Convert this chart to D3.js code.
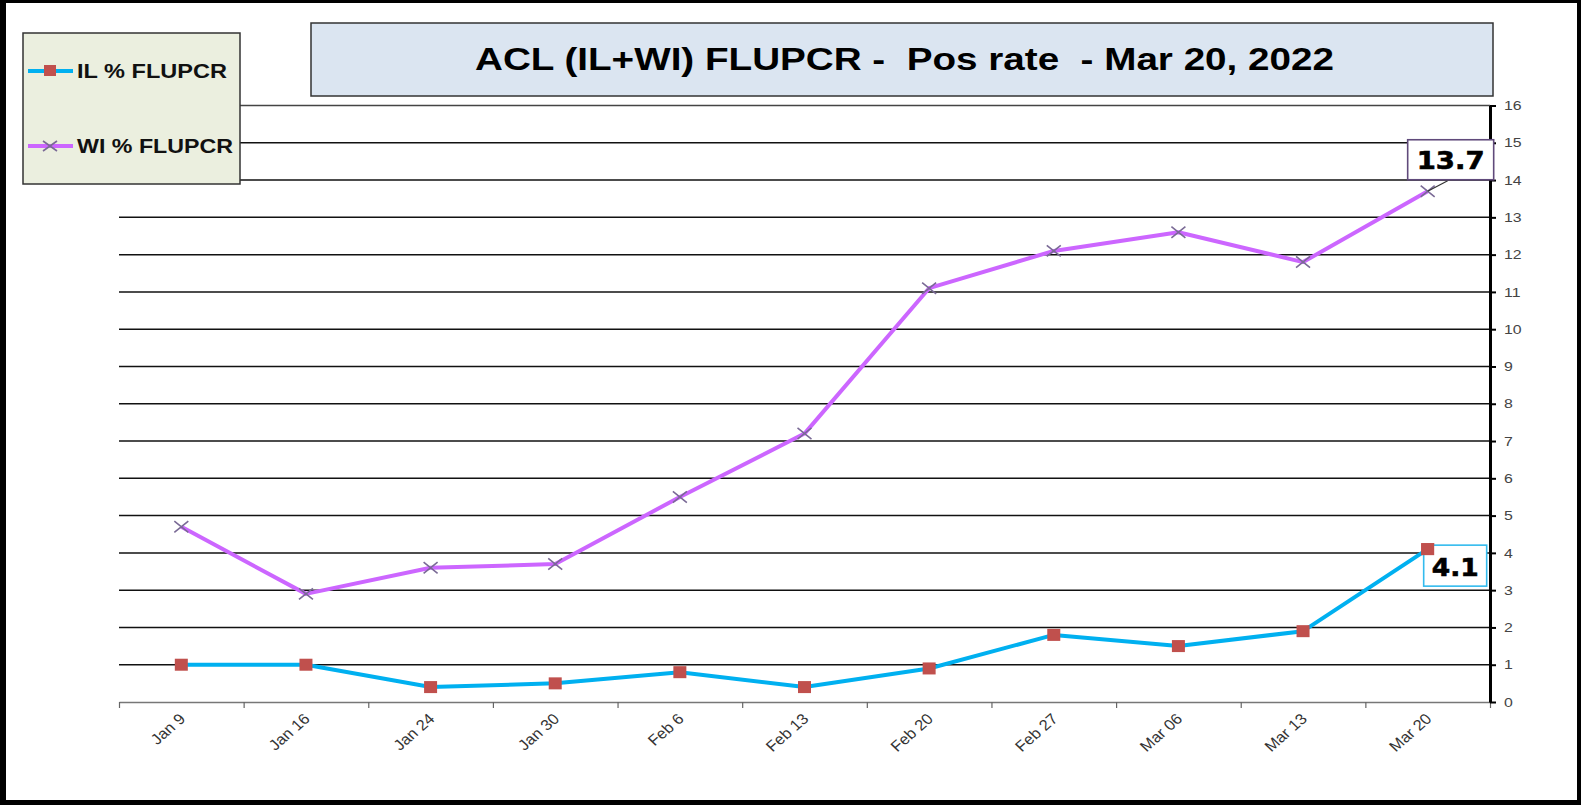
<!DOCTYPE html>
<html>
<head>
<meta charset="utf-8">
<script src="https://cdn.jsdelivr.net/npm/d3@7"></script>
<style>
  html, body { margin: 0; padding: 0; background: #fff; }
  svg { display: block; }
  text { white-space: pre; }
</style>
</head>
<body>
<svg id="chart" width="1581" height="805"></svg>
<script>
// ---- data ----
const categories = ["Jan 9", "Jan 16", "Jan 24", "Jan 30", "Feb 6", "Feb 13", "Feb 20", "Feb 27", "Mar 06", "Mar 13", "Mar 20"];
const ilValues = [1.0, 1.0, 0.4, 0.5, 0.8, 0.4, 0.9, 1.8, 1.5, 1.9, 4.1];
const wiValues = [4.7, 2.9, 3.6, 3.7, 5.5, 7.2, 11.1, 12.1, 12.6, 11.8, 13.7];
const yTicks = [0, 1, 2, 3, 4, 5, 6, 7, 8, 9, 10, 11, 12, 13, 14, 15, 16];
const seriesNames = ["IL % FLUPCR", "WI % FLUPCR"];
const titleText = "ACL (IL+WI) FLUPCR -  Pos rate  - Mar 20, 2022";

// ---- layout ----
const svg = d3.select("#chart");
const W = 1581, H = 805;
const plot = { left: 119, right: 1490, top: 105.5, bottom: 702 };
const SX = 1.22; // horizontal stretch of the original picture

const xEdge = d3.scaleLinear().domain([0, categories.length]).range([plot.left, plot.right]);
const xc = i => xEdge(i + 0.5);
const y = d3.scaleLinear().domain([0, 16]).range([plot.bottom, plot.top]);

svg.append("rect").attr("width", W).attr("height", H).attr("fill", "#fff");

// gridlines
svg.append("g").selectAll("line").data(yTicks.filter(d => d > 0)).join("line")
  .attr("x1", plot.left).attr("x2", plot.right)
  .attr("y1", d => y(d)).attr("y2", d => y(d))
  .attr("stroke", d => d === 16 ? "#444" : "#111").attr("stroke-width", 1.5);

// x axis
const xAxis = d3.axisBottom(xEdge).tickValues(d3.range(0, categories.length + 1)).tickFormat("").tickSize(6).tickSizeOuter(0);
const gx = svg.append("g").attr("transform", `translate(0,${plot.bottom})`).call(xAxis);
gx.select(".domain").attr("stroke", "#777").attr("stroke-width", 1.5);
gx.selectAll(".tick line").attr("stroke", "#666").attr("stroke-width", 1.2);

// x labels
svg.append("g").selectAll("text").data(categories).join("text")
  .attr("transform", (d, i) => `translate(${xc(i) + 5},${plot.bottom + 18}) scale(1.1,1) rotate(-44)`)
  .attr("text-anchor", "end")
  .attr("font-family", "Liberation Sans, Arial, sans-serif")
  .attr("font-size", 15)
  .attr("fill", "#333")
  .text(d => d);

// y axis (right)
const yAxis = d3.axisRight(y).tickValues(yTicks).tickSize(6).tickPadding(8).tickSizeOuter(0);
const gy = svg.append("g").attr("transform", `translate(${plot.right},0)`).call(yAxis);
gy.select(".domain").attr("stroke", "#000").attr("stroke-width", 3);
gy.selectAll(".tick line").attr("stroke", "#000").attr("stroke-width", 2);
gy.selectAll(".tick text")
  .attr("font-family", "Liberation Sans, Arial, sans-serif")
  .attr("font-size", 13)
  .attr("fill", "#444")
  .each(function () {
    const len = this.getComputedTextLength();
    d3.select(this).attr("textLength", len * SX).attr("lengthAdjust", "spacingAndGlyphs");
  });

// lines
const line = d3.line().x((d, i) => xc(i)).y(d => y(d));
svg.append("path").datum(wiValues).attr("d", line)
  .attr("fill", "none").attr("stroke", "#cc66ff").attr("stroke-width", 4).attr("stroke-linejoin", "round");
svg.append("path").datum(ilValues).attr("d", line)
  .attr("fill", "none").attr("stroke", "#00b0f0").attr("stroke-width", 4).attr("stroke-linejoin", "round");

// WI markers (x)
const xm = 7;
svg.append("g").selectAll("path").data(wiValues).join("path")
  .attr("d", (d, i) => {
    const cx = xc(i), cy = y(d);
    return `M${cx - xm},${cy - xm * 0.8}L${cx + xm},${cy + xm * 0.8}M${cx - xm},${cy + xm * 0.8}L${cx + xm},${cy - xm * 0.8}`;
  })
  .attr("stroke", "#7a6a96").attr("stroke-width", 1.6).attr("fill", "none");

// IL markers (squares)
const sq = 13;
svg.append("g").selectAll("rect").data(ilValues).join("rect")
  .attr("x", (d, i) => xc(i) - sq / 2).attr("y", d => y(d) - sq / 2 + 0.5)
  .attr("width", sq).attr("height", sq - 1)
  .attr("fill", "#c0504d");

// data labels for last points
const last = categories.length - 1;
const wiLast = wiValues[last], ilLast = ilValues[last];
// leader line for WI
svg.append("line")
  .attr("x1", xc(last)).attr("y1", y(wiLast))
  .attr("x2", xc(last) + 20).attr("y2", y(wiLast) - 10.5)
  .attr("stroke", "#333").attr("stroke-width", 1.2);
svg.append("rect")
  .attr("x", xc(last) - 20).attr("y", y(wiLast) - 51.5)
  .attr("width", 86).attr("height", 40)
  .attr("fill", "#fff").attr("stroke", "#604a7b").attr("stroke-width", 1.6);
svg.append("text")
  .attr("x", xc(last) + 23).attr("y", y(wiLast) - 22)
  .attr("text-anchor", "middle")
  .attr("font-family", "DejaVu Sans, sans-serif").attr("font-weight", "bold")
  .attr("font-size", 25).attr("fill", "#000")
  .attr("stroke", "#000").attr("stroke-width", 0.6)
  .attr("textLength", 68).attr("lengthAdjust", "spacingAndGlyphs")
  .text(wiLast.toFixed(1));

svg.append("rect")
  .attr("x", xc(last) - 4).attr("y", y(ilLast) - 4)
  .attr("width", 63).attr("height", 41)
  .attr("fill", "#fff").attr("stroke", "#33bbee").attr("stroke-width", 1.6);
svg.append("text")
  .attr("x", xc(last) + 27.5).attr("y", y(ilLast) + 26.5)
  .attr("text-anchor", "middle")
  .attr("font-family", "DejaVu Sans, sans-serif").attr("font-weight", "bold")
  .attr("font-size", 25).attr("fill", "#000")
  .attr("stroke", "#000").attr("stroke-width", 0.6)
  .attr("textLength", 47).attr("lengthAdjust", "spacingAndGlyphs")
  .text(ilLast.toFixed(1));
// redraw last IL marker on top of box
svg.append("rect")
  .attr("x", xc(last) - sq / 2).attr("y", y(ilLast) - sq / 2 + 0.5)
  .attr("width", sq).attr("height", sq - 1).attr("fill", "#c0504d");

// legend
const lg = svg.append("g");
lg.append("rect").attr("x", 23).attr("y", 33).attr("width", 217).attr("height", 151)
  .attr("fill", "#ebefdf").attr("stroke", "#333").attr("stroke-width", 1.5);
const legendRows = [
  { name: seriesNames[0], y: 71, color: "#00b0f0", marker: "square", len: 150 },
  { name: seriesNames[1], y: 146, color: "#cc66ff", marker: "x", len: 156 }
];
legendRows.forEach(r => {
  lg.append("line").attr("x1", 28).attr("x2", 73).attr("y1", r.y).attr("y2", r.y)
    .attr("stroke", r.color).attr("stroke-width", 4);
  if (r.marker === "square") {
    lg.append("rect").attr("x", 44).attr("y", r.y - 6).attr("width", 12).attr("height", 11).attr("fill", "#c0504d");
  } else {
    lg.append("path").attr("d", `M43,${r.y - 5}L57,${r.y + 5}M43,${r.y + 5}L57,${r.y - 5}`)
      .attr("stroke", "#7a6a96").attr("stroke-width", 1.6);
  }
  lg.append("text").attr("x", 77).attr("y", r.y + 7)
    .attr("font-family", "Liberation Sans, Arial, sans-serif").attr("font-weight", "bold")
    .attr("font-size", 19.5).attr("fill", "#111")
    .attr("textLength", r.len).attr("lengthAdjust", "spacingAndGlyphs")
    .text(r.name);
});

// title
svg.append("rect").attr("x", 311).attr("y", 23).attr("width", 1182).attr("height", 73)
  .attr("fill", "#dbe5f1").attr("stroke", "#333").attr("stroke-width", 1.5);
svg.append("text").attr("x", 475).attr("y", 69.5)
  .attr("font-family", "Liberation Sans, Arial, sans-serif").attr("font-weight", "bold")
  .attr("font-size", 31).attr("fill", "#000")
  .attr("textLength", 859).attr("lengthAdjust", "spacingAndGlyphs")
  .text(titleText);

// outer border
svg.append("rect").attr("x", 0).attr("y", 0).attr("width", 6).attr("height", H).attr("fill", "#000");
svg.append("rect").attr("x", 0).attr("y", 0).attr("width", W).attr("height", 3).attr("fill", "#000");
svg.append("rect").attr("x", W - 4).attr("y", 0).attr("width", 4).attr("height", H).attr("fill", "#000");
svg.append("rect").attr("x", 0).attr("y", H - 5).attr("width", W).attr("height", 5).attr("fill", "#000");
</script>
</body>
</html>
